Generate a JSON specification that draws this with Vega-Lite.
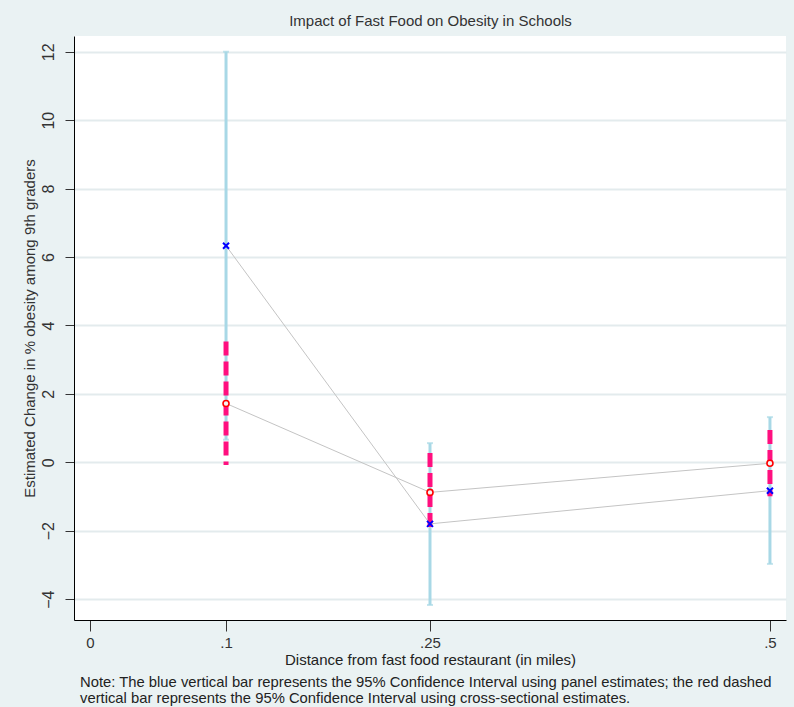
{
  "$schema": "https://vega.github.io/schema/vega-lite/v6.json",
  "width": 712,
  "height": 584,
  "autosize": {"type": "none"},
  "padding": {"left": 74, "top": 36, "right": 8, "bottom": 87},
  "background": "#eaf2f3",
  "config": {
    "view": {"fill": "white", "stroke": null},
    "font": "Liberation Sans"
  },
  "title": {
    "text": ["Note: The blue vertical bar represents the 95% Confidence Interval using panel estimates; the red dashed", "vertical bar represents the 95% Confidence Interval using cross-sectional estimates."],
    "orient": "bottom",
    "anchor": "start",
    "frame": "group",
    "align": "left",
    "dx": 6,
    "offset": 8,
    "fontSize": 14.8,
    "lineHeight": 15.5,
    "fontWeight": "normal",
    "color": "#222222"
  },
  "data": {
    "values": [
      {"d": 0.1, "panel": 6.33, "plo": 0.66, "phi": 12.0, "cs": 1.72, "clo": -0.08, "chi": 3.53},
      {"d": 0.25, "panel": -1.8, "plo": -4.17, "phi": 0.56, "cs": -0.88, "clo": -2.06, "chi": 0.27},
      {"d": 0.5, "panel": -0.83, "plo": -2.97, "phi": 1.32, "cs": -0.03, "clo": -0.99, "chi": 0.94}
    ]
  },
  "resolve": {"axis": {"x": "independent"}},
  "layer": [
    {
      "mark": {"type": "rule", "color": "#a8d8e6", "strokeWidth": 3},
      "encoding": {
        "x": {
          "field": "d",
          "type": "quantitative",
          "scale": {"domain": [-0.0118, 0.5118], "nice": false, "zero": false},
          "axis": {
            "values": [0, 0.1, 0.25, 0.5],
            "labelExpr": "datum.value == 0 ? '0' : slice(toString(datum.value), 1)",
            "title": "Distance from fast food restaurant (in miles)",
            "grid": false,
            "domainColor": "#000000",
            "domainWidth": 1,
            "tickColor": "#333333",
            "tickSize": 11,
            "labelFontSize": 15,
            "labelColor": "#333333",
            "labelPadding": 4,
            "titleFontSize": 15,
            "titleFontWeight": "normal",
            "titleColor": "#222222",
            "titlePadding": 2
          }
        },
        "y": {
          "field": "plo",
          "type": "quantitative",
          "scale": {"domain": [-4.61, 12.46], "nice": false, "zero": false},
          "axis": {
            "values": [-4, -2, 0, 2, 4, 6, 8, 10, 12],
            "title": "Estimated Change in % obesity among 9th graders",
            "grid": true,
            "gridColor": "#e3ebed",
            "gridWidth": 2,
            "domainColor": "#000000",
            "domainWidth": 1,
            "tickColor": "#333333",
            "tickSize": 9,
            "labelAngle": -90,
            "labelFontSize": 16,
            "labelColor": "#333333",
            "labelPadding": 9,
            "titleFontSize": 15,
            "titleFontWeight": "normal",
            "titleColor": "#333333",
            "titlePadding": 3
          }
        },
        "y2": {"field": "phi"}
      }
    },
    {
      "mark": {"type": "tick", "orient": "horizontal", "color": "#a8d8e6", "size": 6, "thickness": 2},
      "encoding": {
        "x": {"field": "d", "type": "quantitative", "axis": null},
        "y": {"field": "plo", "type": "quantitative"}
      }
    },
    {
      "mark": {"type": "tick", "orient": "horizontal", "color": "#a8d8e6", "size": 6, "thickness": 2},
      "encoding": {
        "x": {"field": "d", "type": "quantitative", "axis": null},
        "y": {"field": "phi", "type": "quantitative"}
      }
    },
    {
      "mark": {"type": "rule", "color": "#ff0f7f", "strokeWidth": 5, "strokeDash": [14, 6]},
      "encoding": {
        "x": {"field": "d", "type": "quantitative", "axis": null},
        "y": {"field": "chi", "type": "quantitative"},
        "y2": {"field": "clo"}
      }
    },
    {
      "mark": {"type": "line", "color": "#c4c4c4", "strokeWidth": 1},
      "encoding": {
        "x": {
          "field": "d",
          "type": "quantitative",
          "axis": {
            "orient": "top",
            "title": "Impact of Fast Food on Obesity in Schools",
            "domain": false,
            "ticks": false,
            "labels": false,
            "grid": false,
            "titleFontSize": 15,
            "titleFontWeight": "normal",
            "titleColor": "#333333",
            "titlePadding": 8
          }
        },
        "y": {"field": "panel", "type": "quantitative"}
      }
    },
    {
      "mark": {"type": "line", "color": "#c4c4c4", "strokeWidth": 1},
      "encoding": {
        "x": {"field": "d", "type": "quantitative", "axis": null},
        "y": {"field": "cs", "type": "quantitative"}
      }
    },
    {
      "mark": {"type": "point", "shape": "circle", "filled": false, "fill": "#f4f4f4", "fillOpacity": 1, "stroke": "#ff0000", "strokeWidth": 1.6, "size": 36, "opacity": 1},
      "encoding": {
        "x": {"field": "d", "type": "quantitative", "axis": null},
        "y": {"field": "cs", "type": "quantitative"}
      }
    },
    {
      "mark": {"type": "point", "shape": "M-1,-1L1,1M-1,1L1,-1", "filled": false, "stroke": "#0000ff", "strokeWidth": 2, "size": 36, "opacity": 1},
      "encoding": {
        "x": {"field": "d", "type": "quantitative", "axis": null},
        "y": {"field": "panel", "type": "quantitative"}
      }
    }
  ]
}
